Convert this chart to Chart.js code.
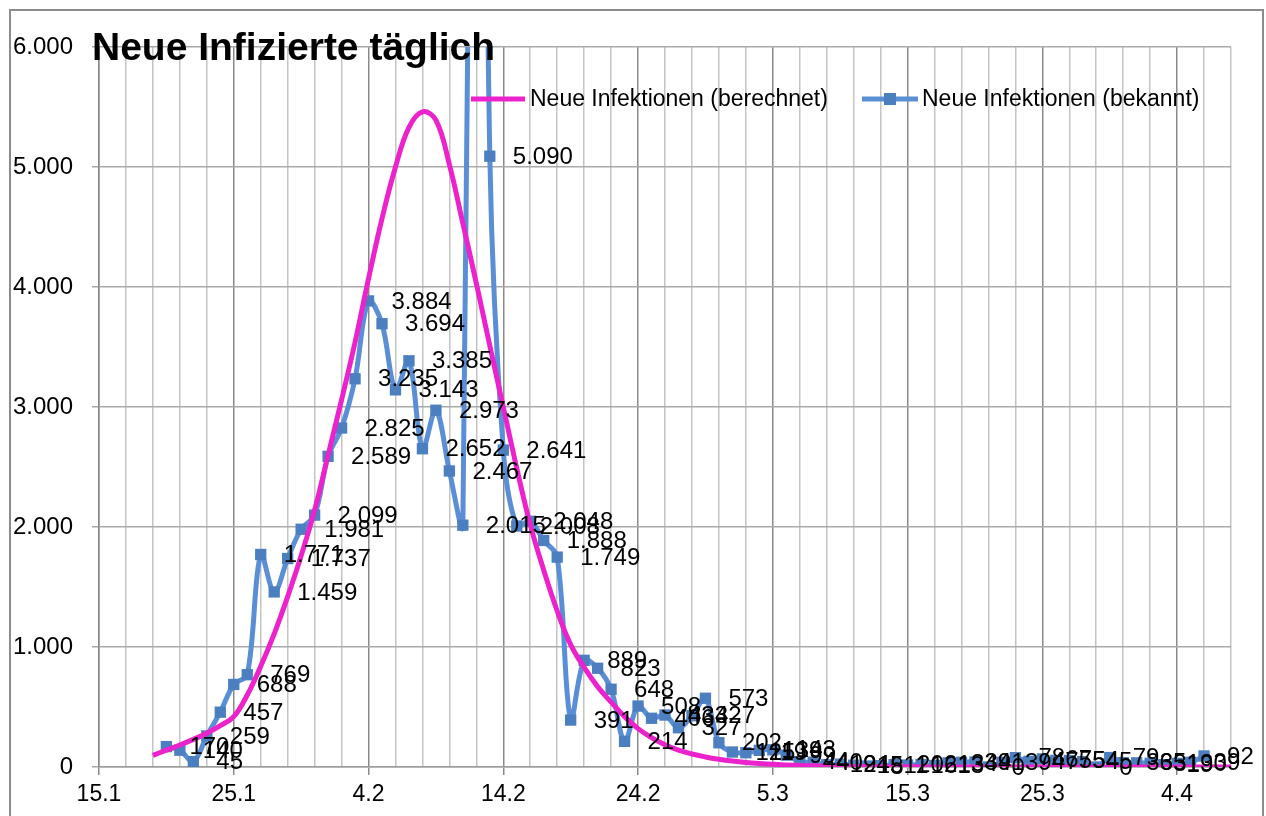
<!DOCTYPE html>
<html><head><meta charset="utf-8">
<script src="https://cdn.jsdelivr.net/npm/chart.js@4/dist/chart.umd.min.js"></script>
<style>html,body{margin:0;padding:0;background:#fff;}canvas{display:block;}</style>
</head><body>
<canvas id="c" width="1266" height="816"></canvas>
<script>
// ---- data ----
const titleText = 'Neue Infizierte täglich';
const seriesNames = ['Neue Infektionen (berechnet)', 'Neue Infektionen (bekannt)'];
// x axis: days after 15.1.
const xTickDays = [0, 10, 20, 30, 40, 50, 60, 70, 80];
const xTickLabels = ['15.1', '25.1', '4.2', '14.2', '24.2', '5.3', '15.3', '25.3', '4.4'];
const yTicks = [0, 1000, 2000, 3000, 4000, 5000, 6000];
// known new infections per day, starting 20.1. (day 5)
const knownStartDay = 5;
const knownValues = [170, 140, 45, 259, 457, 688, 769, 1771, 1459, 1737, 1981, 2099, 2589, 2825, 3235,
  3884, 3694, 3143, 3385, 2652, 2973, 2467, 2015, 15152, 5090, 2641, 2008, 2048, 1888, 1749,
  391, 889, 823, 648, 214, 508, 406, 433, 327, 427, 573, 202, 125, 119, 139, 143, 99, 44, 40,
  19, 24, 15, 8, 11, 20, 16, 21, 13, 34, 39, 41, 0, 39, 78, 47, 67, 55, 54, 45, 0, 79, 36, 35,
  31, 19, 30, 39, 92];
// calculated new infections per day, starting 19.1. (day 4)
const calcStartDay = 4;
const calcValues = [97, 140, 183, 230, 282, 345, 420, 600, 840, 1110, 1420, 1760, 2140, 2600, 3060,
  3540, 4070, 4570, 5000, 5330, 5460, 5390, 5020, 4530, 4030, 3510, 3000, 2490, 2020, 1640, 1300,
  1020, 830, 670, 540, 420, 320, 245, 185, 140, 108, 84, 65, 50, 38, 29, 22, 17, 13, 10, 8, 6, 5,
  4, 3, 2, 2, 1, 1, 1, 1, 1, 1, 1, 1, 0, 0, 0, 0, 0, 0, 0, 0, 0, 0, 0, 0, 0, 0, 0, 0];

const COL_CALC = '#ec22cd';
const COL_KNOWN = '#5a8fd6';
const COL_MARK = '#4c7fc0';
const FONT = '"Liberation Sans", Arial, sans-serif';

function fmt(v) { return String(v).replace(/\B(?=(\d{3})+(?!\d))/g, '.'); }

const calcPts = calcValues.map((v, i) => ({ x: calcStartDay + i, y: v }));
const knownPts = knownValues.map((v, i) => ({ x: knownStartDay + i, y: v }));
const yMax = yTicks[yTicks.length - 1];

const framePlugin = {
  id: 'frame',
  beforeDraw(chart) {
    const c = chart.ctx;
    c.save(); c.fillStyle = '#fff'; c.fillRect(0, 0, chart.width, chart.height); c.restore();
  },
  afterDraw(chart) {
    const c = chart.ctx;
    c.save();
    c.strokeStyle = '#8c8c8c'; c.lineWidth = 2;
    c.strokeRect(10, 10, 1253, 900);
    // title
    c.fillStyle = '#000';
    c.font = 'bold 39px ' + FONT;
    c.textBaseline = 'alphabetic'; c.textAlign = 'left';
    c.fillText(titleText, 92, 60);
    // legend
    const ly = 99;
    c.lineCap = 'butt';
    c.strokeStyle = COL_CALC; c.lineWidth = 5;
    c.beginPath(); c.moveTo(471, ly); c.lineTo(525, ly); c.stroke();
    c.strokeStyle = COL_KNOWN;
    c.beginPath(); c.moveTo(862, ly); c.lineTo(918, ly); c.stroke();
    c.fillStyle = COL_MARK; c.fillRect(884, ly - 6, 12, 12);
    c.fillStyle = '#000';
    c.font = '23px ' + FONT; c.textBaseline = 'middle';
    c.fillText(seriesNames[0], 530, ly + 1);
    c.fillText(seriesNames[1], 922, ly + 1);
    c.restore();
  },
  afterDatasetsDraw(chart) {
    const c = chart.ctx;
    const meta = chart.getDatasetMeta(1);
    c.save();
    c.fillStyle = '#000';
    c.font = '24px ' + FONT;
    c.textBaseline = 'middle'; c.textAlign = 'left';
    meta.data.forEach((el, i) => {
      const v = knownValues[i];
      if (v > yMax) return;
      c.fillText(fmt(v), el.x + 23, el.y + 1);
    });
    c.restore();
  }
};

new Chart(document.getElementById('c'), {
  type: 'line',
  data: {
    datasets: [
      { label: seriesNames[0], data: calcPts, borderColor: COL_CALC, borderWidth: 5,
        pointRadius: 0, tension: 0.4, fill: false },
      { label: seriesNames[1], data: knownPts, borderColor: COL_KNOWN, borderWidth: 5,
        pointStyle: 'rect', pointRadius: 8, pointBackgroundColor: COL_MARK,
        pointBorderColor: COL_MARK, pointBorderWidth: 0, tension: 0.35, fill: false }
    ]
  },
  options: {
    responsive: false, animation: false, devicePixelRatio: 1,
    layout: { padding: { left: 0, right: 35, top: 47, bottom: 0 } },
    elements: { line: { capBezierPoints: false } },
    plugins: { legend: { display: false }, title: { display: false }, tooltip: { enabled: false } },
    scales: {
      x: {
        type: 'linear', min: 0, max: 84,
        afterFit(s) { s.height = 49; },
        ticks: {
          stepSize: 2, autoSkip: false, maxRotation: 0, color: '#000', padding: 6,
          font: { family: FONT, size: 23 },
          callback(v) { const k = xTickDays.indexOf(v); return k >= 0 ? xTickLabels[k] : ''; }
        },
        grid: {
          lineWidth: 1.5, tickLength: 8,
          color: ctx => (ctx.tick && xTickDays.includes(ctx.tick.value)) ? '#8a8a8a' : '#c4c4c4',
          tickColor: ctx => (ctx.tick && xTickDays.includes(ctx.tick.value)) ? '#8a8a8a' : 'rgba(0,0,0,0)'
        },
        border: { display: true, color: '#9c9c9c', width: 1.5 }
      },
      y: {
        min: 0, max: yMax,
        afterFit(s) { s.width = 99; },
        afterBuildTicks(s) { s.ticks = yTicks.map(v => ({ value: v })); },
        ticks: { color: '#000', padding: 19, font: { family: FONT, size: 24 }, callback: v => fmt(v) },
        grid: { color: '#a9a9a9', lineWidth: 1.5, tickLength: 7 },
        border: { display: true, color: '#8a8a8a', width: 1.5 }
      }
    }
  },
  plugins: [framePlugin]
});
</script>
</body></html>
